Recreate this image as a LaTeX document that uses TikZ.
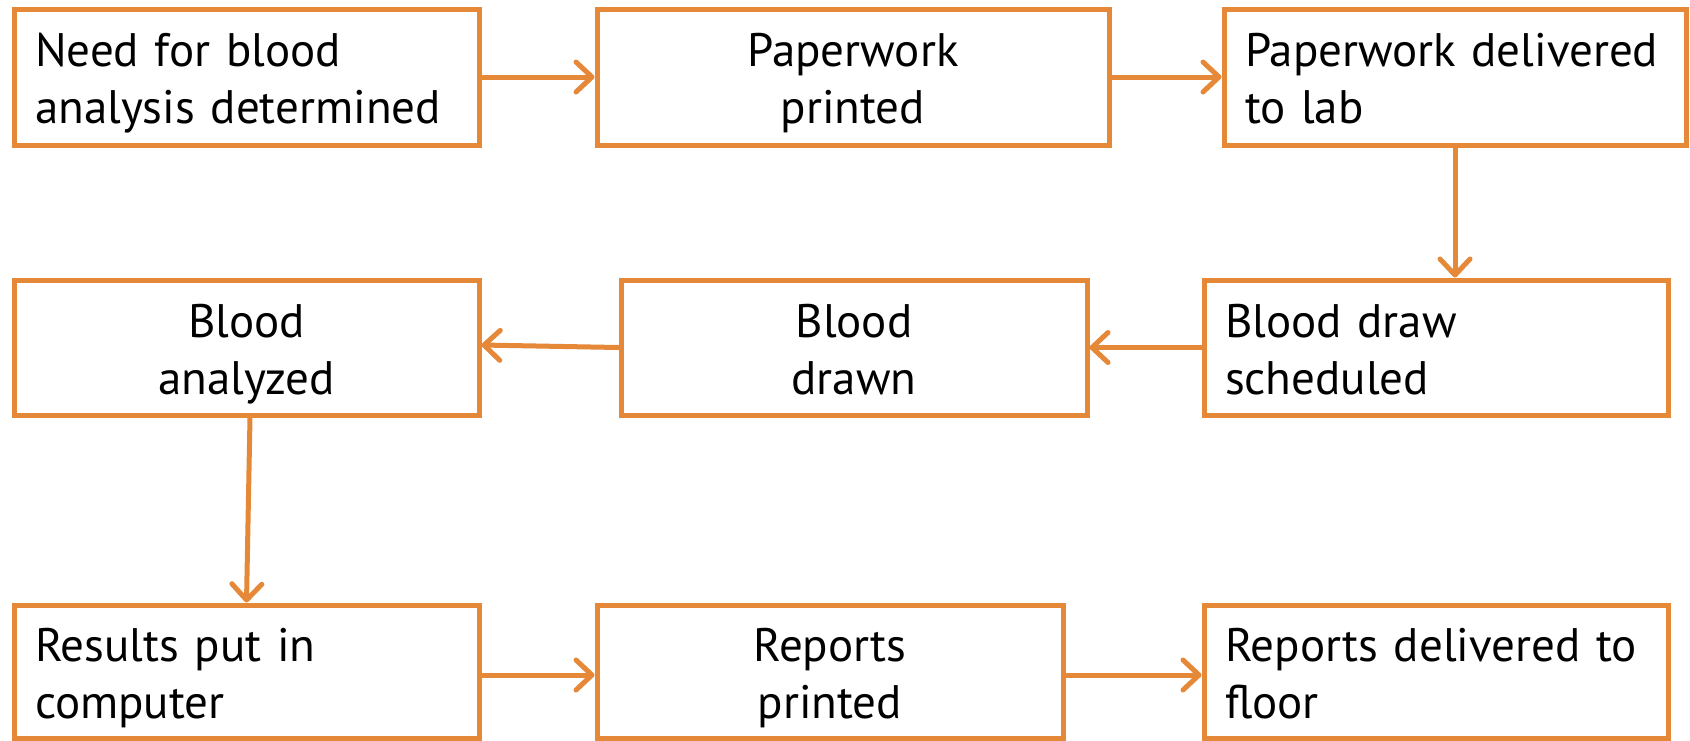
\documentclass[tikz,border=0pt]{standalone}
\usepackage{fontspec}
\setmainfont{PT Sans}
\usetikzlibrary{arrows.meta,calc}
\definecolor{boxorange}{RGB}{229,136,56}
\tikzset{
  stepbox/.style={draw=boxorange, line width=5pt, rectangle, inner sep=0pt,
    font=\fontsize{47}{57}\selectfont, text=black, text height=36pt, text depth=57pt},
  leftbox/.style={stepbox, align=left},
  midbox/.style={stepbox, align=center},
  arr/.style={draw=boxorange, line width=5pt, line cap=round,
    -{Straight Barb[length=16pt,width=30pt,line cap=round,line join=round]}},
}
\begin{document}
\begin{tikzpicture}[x=1pt,y=-1pt]
\useasboundingbox (0,0) rectangle (1690,740);
\fill[white] (0,0) rectangle (1690,740);
% row 1
\node[leftbox, minimum width=465pt, minimum height=136pt, text width=423pt] (b1) at (246.5,77) {Need for blood\\analysis determined};
\node[midbox, minimum width=512pt, minimum height=136pt, text width=470pt] (b2) at (853,77) {Paperwork\\printed};
\node[leftbox, minimum width=462pt, minimum height=136pt, text width=420pt] (b3) at (1455,77) {Paperwork delivered\\to lab};
% row 2
\node[midbox, minimum width=465pt, minimum height=135pt, text width=423pt] (b4) at (246.5,347.5) {Blood\\analyzed};
\node[midbox, minimum width=466pt, minimum height=135pt, text width=424pt] (b5) at (854,347.5) {Blood\\drawn};
\node[leftbox, minimum width=464pt, minimum height=135pt, text width=422pt] (b6) at (1436,347.5) {Blood draw\\scheduled};
% row 3
\node[leftbox, minimum width=465pt, minimum height=133pt, text width=423pt] (b7) at (246.5,671.5) {Results put in\\computer};
\node[midbox, minimum width=466pt, minimum height=133pt, text width=424pt] (b8) at (830,671.5) {Reports\\printed};
\node[leftbox, minimum width=464pt, minimum height=133pt, text width=422pt] (b9) at (1436,671.5) {Reports delivered to\\floor};
% connectors
\draw[arr] (b1.east) -- (b2.west);
\draw[arr] (b2.east) -- (b3.west);
\draw[arr] (b3.south) -- (b3.south |- b6.north);
\draw[arr] (b6.west) -- (b5.east);
\draw[arr] (b5.west) -- ($(b4.east)+(0,-2.5)$);
\draw[arr] ($(b4.south)+(3.5,0)$) -- (b7.north);
\draw[arr] ($(b7.east)+(0,3.5)$) -- ($(b8.west)+(0,3.5)$);
\draw[arr] ($(b8.east)+(0,3.5)$) -- ($(b9.west)+(0,3.5)$);
\end{tikzpicture}
\end{document}
